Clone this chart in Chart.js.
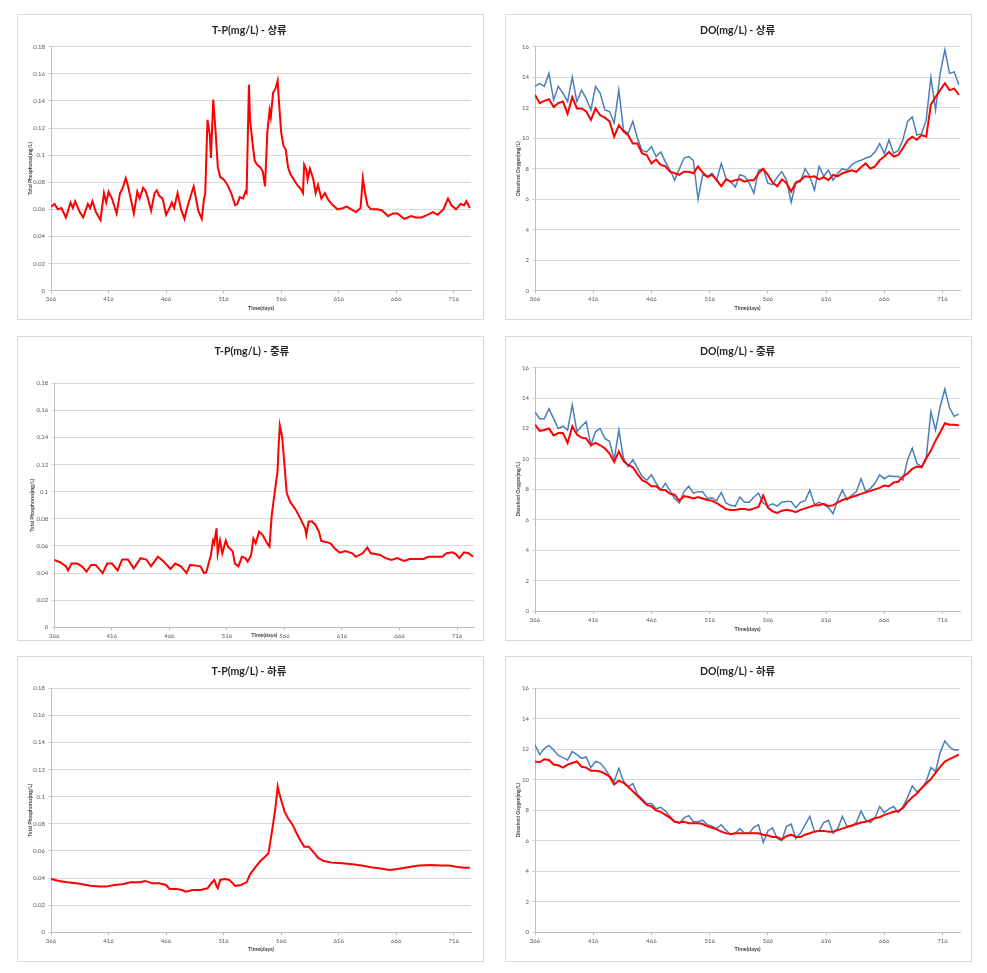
<!DOCTYPE html>
<html>
<head>
<meta charset="utf-8">
<script src="https://cdn.jsdelivr.net/npm/chart.js@4.4.0/dist/chart.umd.min.js"></script>
<style>
body { margin: 0; background: #fff; width: 987px; height: 973px; position: relative; overflow: hidden; }
.panel { position: absolute; border: 1px solid #d9d9d9; background: #fff; }
.panel canvas { display: block; }
</style>
</head>
<body>
<div class="panel" style="left:17px;top:14px;width:465px;height:304px"><canvas id="c1" width="465" height="304"></canvas></div>
<div class="panel" style="left:505px;top:14px;width:465px;height:304px"><canvas id="c2" width="465" height="304"></canvas></div>
<div class="panel" style="left:17px;top:336px;width:465px;height:303px"><canvas id="c3" width="465" height="303"></canvas></div>
<div class="panel" style="left:505px;top:336px;width:465px;height:303px"><canvas id="c4" width="465" height="303"></canvas></div>
<div class="panel" style="left:17px;top:656px;width:465px;height:304px"><canvas id="c5" width="465" height="304"></canvas></div>
<div class="panel" style="left:505px;top:656px;width:465px;height:304px"><canvas id="c6" width="465" height="304"></canvas></div>
<script>
// tick labels
const dayTicks = [366, 416, 466, 516, 566, 616, 666, 716];
const tpTicks = [0, 0.02, 0.04, 0.06, 0.08, 0.1, 0.12, 0.14, 0.16, 0.18];
const doTicks = [0, 2, 4, 6, 8, 10, 12, 14, 16];

// T-P 상류
const tpUpDays = [366,369,372,375,379,383,385,387,391,394,398,400,402,405,409,412,414,416,419,423,426,428,431,433,436,438,441,443,446,448,450,453,456,458,460,463,466,469,471,473,476,479,482,484,486,490,492,494,497,499,500,502,504,505,507,509,511,513,516,518,520,523,526,528,530,533,535,536,538,539,541,543,545,548,550,552,554,556,557,559,561,563,564,566,568,570,572,574,577,580,583,585,586,588,589,591,594,596,598,601,604,607,611,615,620,623,627,631,635,637,639,641,644,650,654,659,663,667,673,679,683,688,693,698,702,707,711,714,718,722,725,727,730];
const tpUpVals = [0.062,0.064,0.060,0.061,0.054,0.065,0.061,0.066,0.058,0.054,0.064,0.061,0.066,0.058,0.052,0.072,0.065,0.073,0.068,0.057,0.072,0.075,0.083,0.077,0.065,0.057,0.073,0.068,0.076,0.074,0.069,0.059,0.072,0.074,0.070,0.068,0.056,0.061,0.065,0.061,0.072,0.060,0.053,0.060,0.066,0.077,0.068,0.059,0.053,0.068,0.071,0.126,0.115,0.098,0.141,0.118,0.091,0.084,0.082,0.080,0.077,0.071,0.063,0.064,0.069,0.068,0.073,0.072,0.152,0.126,0.110,0.096,0.093,0.091,0.088,0.077,0.117,0.133,0.128,0.146,0.149,0.155,0.141,0.117,0.107,0.104,0.091,0.086,0.082,0.078,0.075,0.072,0.093,0.089,0.082,0.090,0.082,0.072,0.078,0.068,0.072,0.067,0.063,0.060,0.061,0.062,0.060,0.058,0.061,0.083,0.072,0.063,0.060,0.060,0.059,0.055,0.057,0.057,0.053,0.055,0.054,0.054,0.056,0.058,0.056,0.060,0.068,0.063,0.060,0.064,0.063,0.066,0.061];

// T-P 중류
const tpMidDays = [366,371,376,378,381,386,390,394,398,402,408,412,416,421,425,430,435,441,446,450,456,461,467,471,476,481,484,489,493,496,498,502,504,505,507,508,510,512,515,517,521,523,526,529,532,534,537,539,541,544,547,551,553,555,558,560,561,562,564,566,568,571,576,580,584,585,587,590,593,596,598,602,606,610,614,619,625,628,634,638,641,645,649,654,659,664,670,675,681,687,691,697,703,707,712,715,718,722,726,730];
const tpMidVals = [0.0497,0.048,0.045,0.042,0.047,0.047,0.045,0.041,0.046,0.046,0.040,0.047,0.047,0.042,0.050,0.050,0.0435,0.051,0.050,0.045,0.052,0.0485,0.043,0.047,0.045,0.040,0.046,0.0455,0.045,0.040,0.0405,0.053,0.064,0.062,0.073,0.0545,0.064,0.0545,0.064,0.0595,0.056,0.047,0.045,0.052,0.051,0.0485,0.053,0.0655,0.062,0.0705,0.068,0.062,0.0595,0.083,0.1025,0.115,0.1345,0.149,0.1405,0.120,0.099,0.0925,0.0865,0.080,0.073,0.068,0.078,0.078,0.0755,0.0705,0.0637,0.063,0.062,0.058,0.055,0.0563,0.0546,0.052,0.0546,0.0588,0.0546,0.054,0.0534,0.051,0.0497,0.051,0.049,0.0504,0.0504,0.0504,0.052,0.052,0.052,0.0546,0.0553,0.054,0.051,0.0553,0.0546,0.052];

// T-P 하류
const tpLowDays = [366,373,380,388,393,400,408,414,421,428,435,443,448,454,460,466,469,475,480,483,489,496,502,506,508,510,511,513,517,521,524,526,531,536,539,544,548,552,555,558,561,563,564,566,569,572,576,579,582,586,590,595,598,603,610,619,628,636,644,651,660,667,676,686,696,705,712,718,725,730];
const tpLowVals = [0.0393,0.0379,0.0369,0.0361,0.0354,0.0344,0.0337,0.0337,0.0349,0.0354,0.0369,0.0369,0.0379,0.0361,0.0361,0.0349,0.032,0.032,0.0312,0.030,0.0312,0.0312,0.0325,0.0369,0.0386,0.0337,0.0325,0.0386,0.0393,0.0386,0.0361,0.0342,0.0349,0.0369,0.0428,0.0484,0.0526,0.0558,0.0583,0.0743,0.0915,0.1075,0.1038,0.0976,0.089,0.0841,0.0792,0.0738,0.0688,0.0632,0.0632,0.0583,0.0551,0.0526,0.0514,0.0509,0.0502,0.0492,0.048,0.0472,0.046,0.0467,0.048,0.0492,0.0497,0.0492,0.0492,0.0484,0.0477,0.0477];

// DO: shared day grid
const doDays = [366,370,374,378,382,386,390,394,398,402,406,410,414,418,422,426,430,434,438,442,446,450,454,458,462,466,470,474,478,482,486,490,494,498,502,506,510,514,518,522,526,530,534,538,542,546,550,554,558,562,566,570,574,578,582,586,590,594,598,602,606,610,614,618,622,626,630,634,638,642,646,650,654,658,662,666,670,674,678,682,686,690,694,698,702,706,710,714,718,722,726,730];

// DO 상류
const doUpBlue = [13.4,13.6,13.4,14.25,12.5,13.4,12.95,12.4,14.0,12.4,13.15,12.6,11.85,13.4,12.95,11.85,11.75,11.0,13.15,10.55,10.3,11.1,10.0,9.2,9.1,9.45,8.8,9.1,8.45,7.9,7.25,8.0,8.7,8.8,8.55,6.0,7.6,7.5,7.7,7.25,8.35,7.35,7.15,6.8,7.6,7.5,7.05,6.4,7.9,8.0,7.05,6.95,7.45,7.8,7.25,5.8,7.05,7.15,8.0,7.5,6.6,8.15,7.5,7.9,7.25,7.7,8.0,7.9,8.25,8.45,8.55,8.7,8.8,9.1,9.65,9.0,9.9,9.0,9.2,9.9,11.1,11.4,10.2,10.3,11.2,14.0,11.85,14.25,15.8,14.25,14.35,13.5];
const doUpRed = [12.85,12.3,12.45,12.55,12.05,12.3,12.4,11.6,12.7,11.95,11.95,11.75,11.2,11.95,11.5,11.35,11.1,10.1,10.85,10.45,10.2,9.65,9.65,9.0,8.9,8.35,8.6,8.25,8.15,7.8,7.7,7.6,7.8,7.8,7.7,8.15,7.75,7.45,7.6,7.25,6.85,7.3,7.15,7.25,7.3,7.15,7.25,7.25,7.7,8.0,7.6,7.1,6.85,7.3,7.05,6.5,7.1,7.25,7.5,7.45,7.5,7.3,7.45,7.25,7.6,7.5,7.7,7.8,7.9,7.8,8.1,8.35,8.0,8.15,8.55,8.8,9.1,8.8,8.9,9.35,9.85,10.1,9.9,10.2,10.1,12.2,12.7,13.15,13.6,13.15,13.25,12.85];

// DO 중류
const doMidBlue = [13.1,12.65,12.65,13.3,12.65,12.0,12.15,11.9,13.55,11.8,12.15,12.45,10.9,11.8,12.0,11.35,11.15,9.95,11.9,10.05,9.5,9.95,9.4,8.85,8.6,8.95,8.4,7.95,8.4,7.9,7.4,7.1,7.85,8.2,7.75,7.85,7.85,7.4,7.45,7.25,7.8,7.1,6.95,6.9,7.5,7.15,7.15,7.5,7.75,7.1,6.9,7.05,6.9,7.15,7.2,7.2,6.8,7.15,7.25,7.95,7.0,7.15,7.0,6.8,6.4,7.3,7.95,7.3,7.6,7.85,8.7,7.85,8.05,8.4,8.95,8.7,8.9,8.85,8.85,8.6,9.95,10.7,9.7,9.5,10.05,13.1,11.9,13.45,14.6,13.35,12.8,12.95];
const doMidRed = [12.25,11.85,11.9,12.0,11.55,11.7,11.7,11.05,12.15,11.6,11.4,11.35,10.9,11.05,10.9,10.7,10.35,9.8,10.5,9.85,9.6,9.45,9.0,8.6,8.45,8.2,8.2,7.95,7.95,7.7,7.65,7.25,7.55,7.5,7.4,7.5,7.4,7.3,7.25,7.1,6.9,6.7,6.65,6.65,6.7,6.7,6.65,6.75,6.85,7.6,6.8,6.55,6.45,6.6,6.65,6.6,6.5,6.65,6.75,6.85,6.95,6.95,7.05,6.9,6.95,7.15,7.3,7.4,7.5,7.6,7.7,7.8,7.9,8.0,8.1,8.25,8.2,8.45,8.5,8.85,9.05,9.35,9.5,9.45,10.05,10.55,11.2,11.75,12.35,12.25,12.25,12.2];

// DO 하류
const doLowBlue = [12.3,11.65,12.05,12.25,11.95,11.6,11.45,11.3,11.85,11.65,11.4,11.5,10.8,11.2,11.1,10.75,10.25,9.9,10.75,9.9,9.55,9.75,9.05,8.75,8.45,8.45,8.1,8.2,7.95,7.6,7.25,7.15,7.5,7.65,7.25,7.25,7.35,7.05,6.95,6.8,7.05,6.7,6.4,6.5,6.8,6.5,6.5,6.9,7.05,5.9,6.65,6.85,6.15,6.0,6.95,7.1,6.15,6.5,7.05,7.6,6.6,6.65,7.2,7.35,6.5,6.8,7.6,6.95,6.95,7.2,7.95,7.35,7.2,7.5,8.25,7.85,8.1,8.25,7.85,8.25,8.85,9.6,9.2,9.45,9.9,10.8,10.55,11.8,12.55,12.15,11.95,11.95];
const doLowRed = [11.2,11.15,11.35,11.3,11.0,10.95,10.8,11.0,11.1,11.2,10.85,10.8,10.6,10.6,10.55,10.4,10.2,9.7,9.95,9.8,9.55,9.25,8.95,8.65,8.35,8.25,8.0,7.9,7.7,7.5,7.25,7.2,7.25,7.15,7.15,7.15,7.1,6.95,6.85,6.75,6.6,6.5,6.45,6.5,6.5,6.5,6.5,6.5,6.5,6.4,6.35,6.25,6.25,6.1,6.3,6.4,6.25,6.25,6.4,6.5,6.6,6.65,6.65,6.6,6.6,6.7,6.8,6.9,7.0,7.1,7.2,7.25,7.35,7.5,7.55,7.7,7.8,7.9,7.95,8.15,8.55,8.85,9.1,9.45,9.75,10.05,10.45,10.85,11.2,11.35,11.5,11.65];

const FONT = "Lato, 'Noto Sans CJK KR', sans-serif";
const RED = '#ff0000';
const BLUE = '#4a7ebb';

function pts(xs, ys) {
    return xs.map((x, i) => ({ x: x, y: ys[i] }));
}

function makeChart(id, o) {
    new Chart(document.getElementById(id), {
        type: 'line',
        data: { datasets: o.datasets },
        options: {
            responsive: false,
            animation: false,
            events: [],
            layout: { padding: { left: o.padL, right: o.padR, top: 0, bottom: o.padB } },
            elements: { point: { radius: 0 }, line: { tension: 0 } },
            plugins: {
                legend: { display: false },
                tooltip: { enabled: false },
                title: {
                    display: true,
                    text: o.title,
                    color: '#262626',
                    font: { family: FONT, size: 10.5, weight: 'bold' },
                    padding: { top: o.titleTop, bottom: o.titleBottom }
                }
            },
            scales: {
                x: {
                    type: 'linear',
                    min: 366,
                    max: 731,
                    afterBuildTicks: s => { s.ticks = dayTicks.map(v => ({ value: v })); },
                    afterFit: s => { s.height = o.xH; },
                    ticks: { autoSkip: false, maxRotation: 0, padding: 2, color: '#595959', font: { family: FONT, size: 6 } },
                    grid: { drawOnChartArea: false, tickLength: 3, color: '#bfbfbf' },
                    border: { color: '#bfbfbf' },
                    title: { display: true, text: 'Time(days)', padding: 0, color: '#404040', font: { family: FONT, size: 5.5, weight: 'bold' } }
                },
                y: {
                    min: 0,
                    max: o.yTicks[o.yTicks.length - 1],
                    afterBuildTicks: s => { s.ticks = o.yTicks.map(v => ({ value: v })); },
                    afterFit: s => { s.width = o.yW; },
                    ticks: { padding: 3, color: '#595959', font: { family: FONT, size: 6 }, callback: v => String(+v.toFixed(2)) },
                    grid: { color: '#d9d9d9', tickLength: 3 },
                    border: { color: '#bfbfbf' },
                    title: { display: true, text: o.yTitle, padding: 0, color: '#404040', font: { family: FONT, size: 5, weight: 'bold' } }
                }
            }
        }
    });
}

function redLine(data) {
    return { data: data, borderColor: RED, borderWidth: 2 };
}
function blueLine(data) {
    return { data: data, borderColor: BLUE, borderWidth: 1.5 };
}

makeChart('c1', {
    title: 'T-P(mg/L) - 상류', yTitle: 'Total Phosphorus(mg/L)', yTicks: tpTicks,
    datasets: [redLine(pts(tpUpDays, tpUpVals))],
    padL: 9.7, yW: 23.3, padR: 12, padB: 7.3, xH: 21, titleTop: 9.4, titleBottom: 9.7
});
makeChart('c2', {
    title: 'DO(mg/L) - 상류', yTitle: 'Dissolved Oxygen(mg/L)', yTicks: doTicks,
    datasets: [redLine(pts(doDays, doUpRed)), blueLine(pts(doDays, doUpBlue))],
    padL: 9, yW: 20, padR: 11, padB: 7.3, xH: 21, titleTop: 9.4, titleBottom: 9.7
});
makeChart('c3', {
    title: 'T-P(mg/L) - 중류', yTitle: 'Total Phosphorus(mg/L)', yTicks: tpTicks,
    datasets: [redLine(pts(tpMidDays, tpMidVals))],
    padL: 11.3, yW: 25, padR: 8.7, padB: 1.7, xH: 11, titleTop: 8.4, titleBottom: 25.3
});
makeChart('c4', {
    title: 'DO(mg/L) - 중류', yTitle: 'Dissolved Oxygen(mg/L)', yTicks: doTicks,
    datasets: [redLine(pts(doDays, doMidRed)), blueLine(pts(doDays, doMidBlue))],
    padL: 9.3, yW: 19.7, padR: 11, padB: 7.7, xH: 21.3, titleTop: 8.4, titleBottom: 9.7
});
makeChart('c5', {
    title: 'T-P(mg/L) - 하류', yTitle: 'Total Phosphorus(mg/L)', yTicks: tpTicks,
    datasets: [redLine(pts(tpLowDays, tpLowVals))],
    padL: 9, yW: 24, padR: 12, padB: 8, xH: 20.7, titleTop: 8.4, titleBottom: 10.3
});
makeChart('c6', {
    title: 'DO(mg/L) - 하류', yTitle: 'Dissolved Oxygen(mg/L)', yTicks: doTicks,
    datasets: [redLine(pts(doDays, doLowRed)), blueLine(pts(doDays, doLowBlue))],
    padL: 9.3, yW: 19.7, padR: 11, padB: 8, xH: 20.7, titleTop: 8.4, titleBottom: 10.3
});
</script>
</body>
</html>
